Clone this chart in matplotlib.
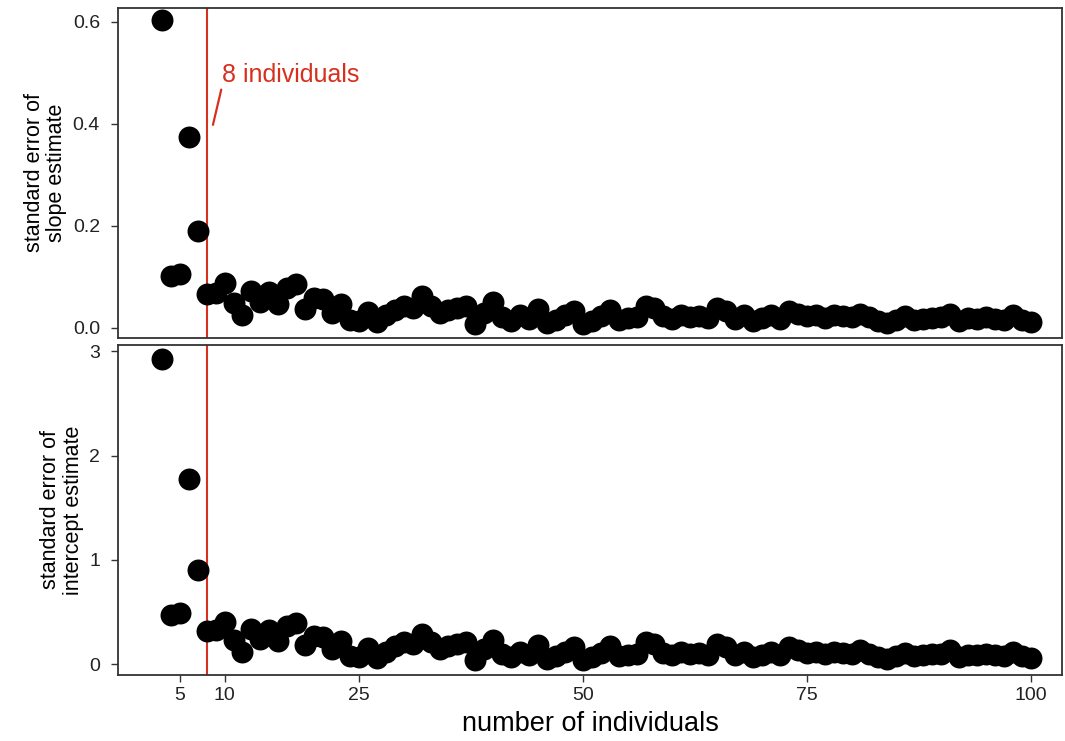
import matplotlib
matplotlib.use("Agg")
import matplotlib.pyplot as plt

plt.rcParams["font.family"] = ["Liberation Sans", "DejaVu Sans"]

# sample sizes and standard errors from the simulation
n_individuals = list(range(3, 101))

se_slope = [
    0.603, 0.102, 0.106, 0.375, 0.190, 0.066, 0.068, 0.088, 0.048, 0.026,
    0.072, 0.050, 0.070, 0.046, 0.078, 0.086, 0.038, 0.058, 0.056, 0.030,
    0.046, 0.016, 0.014, 0.032, 0.012, 0.026, 0.036, 0.044, 0.040, 0.062,
    0.044, 0.030, 0.036, 0.040, 0.044, 0.008, 0.030, 0.050, 0.022, 0.014,
    0.026, 0.018, 0.038, 0.010, 0.016, 0.026, 0.034, 0.008, 0.014, 0.024,
    0.036, 0.016, 0.020, 0.022, 0.044, 0.040, 0.024, 0.018, 0.026, 0.022,
    0.024, 0.020, 0.040, 0.034, 0.018, 0.026, 0.014, 0.020, 0.026, 0.018,
    0.034, 0.028, 0.024, 0.026, 0.020, 0.026, 0.024, 0.022, 0.028, 0.022,
    0.014, 0.010, 0.016, 0.024, 0.016, 0.018, 0.020, 0.022, 0.028, 0.014,
    0.020, 0.018, 0.022, 0.018, 0.016, 0.026, 0.016, 0.012,
]

se_intercept = [
    2.93, 0.47, 0.49, 1.77, 0.90, 0.32, 0.33, 0.40, 0.23, 0.12,
    0.34, 0.24, 0.33, 0.22, 0.36, 0.39, 0.18, 0.27, 0.26, 0.14,
    0.22, 0.08, 0.07, 0.15, 0.06, 0.12, 0.17, 0.21, 0.19, 0.29,
    0.21, 0.14, 0.17, 0.19, 0.21, 0.04, 0.14, 0.23, 0.10, 0.07,
    0.12, 0.09, 0.18, 0.05, 0.08, 0.12, 0.16, 0.04, 0.07, 0.11,
    0.17, 0.08, 0.09, 0.10, 0.21, 0.19, 0.11, 0.09, 0.12, 0.10,
    0.11, 0.09, 0.19, 0.16, 0.09, 0.12, 0.07, 0.09, 0.12, 0.09,
    0.16, 0.13, 0.11, 0.12, 0.10, 0.12, 0.11, 0.10, 0.13, 0.10,
    0.07, 0.05, 0.08, 0.11, 0.08, 0.09, 0.10, 0.10, 0.13, 0.07,
    0.09, 0.09, 0.10, 0.09, 0.08, 0.12, 0.08, 0.06,
]

x_ticks = [5, 10, 25, 50, 75, 100]
cutoff = 8
red = "#d7301f"

fig = plt.figure(figsize=(10.65, 7.41), dpi=100)
ax_top = fig.add_axes([0.1108, 0.5439, 0.8864, 0.4453])
ax_bot = fig.add_axes([0.1108, 0.0891, 0.8864, 0.4453])

for ax, vals in ((ax_top, se_slope), (ax_bot, se_intercept)):
    ax.scatter(n_individuals, vals, s=250, color="black", linewidths=0, zorder=3)
    ax.axvline(cutoff, color=red, linewidth=1.5, zorder=2)
    ax.set_xlim(-1.9, 103.5)
    for sp in ax.spines.values():
        sp.set_color("#333333")
        sp.set_linewidth(1.3)
    ax.tick_params(axis="both", direction="out", length=5, width=1,
                   color="#333333", labelsize=14, labelcolor="#222222")
    ax.tick_params(axis="y", pad=8)

ax_top.set_ylim(-0.0196, 0.627)
ax_top.set_yticks([0.0, 0.2, 0.4, 0.6])
ax_top.set_yticklabels(["0.0", "0.2", "0.4", "0.6"])
ax_top.set_xticks([])
ax_top.set_ylabel("standard error of\nslope estimate", fontsize=15.5,
                  labelpad=4, linespacing=1.1)

ax_bot.set_ylim(-0.105, 3.06)
ax_bot.set_yticks([0, 1, 2, 3])
ax_bot.set_xticks(x_ticks)
ax_bot.set_ylabel("standard error of\nintercept estimate", fontsize=15.5,
                  labelpad=4, linespacing=1.1)
ax_bot.set_xlabel("number of individuals", fontsize=19.5, labelpad=5)

# label for the cutoff line
ax_top.annotate("8 individuals", xy=(8.7, 0.398), xytext=(9.7, 0.496),
                color=red, fontsize=18, ha="left", va="center",
                arrowprops=dict(arrowstyle="-", color=red, lw=1.6,
                                shrinkA=0, shrinkB=0,
                                relpos=(0.0, 0.0)))

fig.savefig("out.png", dpi=100)
